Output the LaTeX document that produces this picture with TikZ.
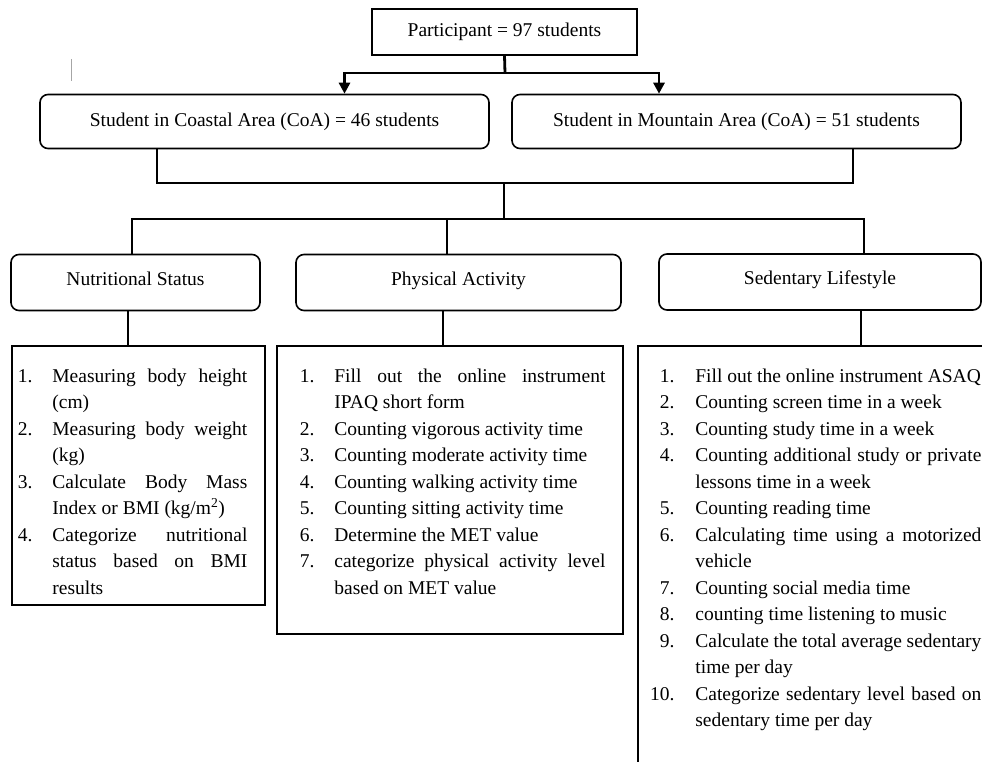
\documentclass[tikz,border=0pt]{standalone}
\usepackage{fontspec}
\setmainfont{Liberation Serif}
\usetikzlibrary{positioning, arrows.meta}

\newlength{\numw}
\newcommand{\itm}[2]{\par\hangindent=\numw\hangafter=1\noindent\strut\makebox[\numw][l]{\makebox[15pt][r]{#1}}#2\par}
\tolerance=9999

\tikzset{
  box/.style={draw, line width=1.6pt, inner sep=0pt, align=center, text height=13.5, text depth=3.5},
  areabox/.style={box, rounded corners=8pt, minimum width=#1, minimum height=54},
  headbox/.style={box, rounded corners=8pt, minimum width=#1, minimum height=56, text height=12, text depth=7},
  listbox/.style={draw, line width=1.6pt, inner sep=0pt},
  listtext/.style={text width=#1, inner sep=0pt, align=justify},
  link/.style={line width=2.8pt},
  downarrow/.style={link, -{Triangle[length=11pt,width=11pt]}}
}

\begin{document}
\begin{tikzpicture}[x=1pt, y=-1pt, font=\fontsize{19.5}{26.5}\selectfont]
\useasboundingbox (0,0) rectangle (982,762);
\clip (0,0) rectangle (982,762);

\node[box, minimum width=265, minimum height=46] (part) at (504.5,32) {Participant = 97 students};
\node[areabox=449] (coastal) at (264.5,121.5) {Student in Coastal Area (CoA) = 46 students};
\node[areabox=449] (mountain) at (736.5,121.5) {Student in Mountain Area (CoA) = 51 students};

\node[headbox=249] (nutr) at (135.5,282.5) {Nutritional Status};
\node[headbox=325] (phys) at (458.5,282.5) {Physical Activity};
\node[headbox=322] (sed) at (820,282) {Sedentary Lifestyle};

% list boxes
\node[listbox, minimum width=253, minimum height=259] (nutlist) at (138.5,475.5) {};
\node[listbox, minimum width=346, minimum height=288] (physlist) at (450,490) {};
\node[listbox, minimum width=362, minimum height=454] (sedlist) at (819,573) {};

\node[listtext=230, below right=10.5pt and 6pt of nutlist.north west] (nuttext) {\numw=35pt
\itm{1.}{Measuring body height \linebreak (cm)}
\itm{2.}{Measuring body weight \linebreak (kg)}
\itm{3.}{Calculate Body Mass \linebreak Index or BMI (kg/m\textsuperscript{2})}
\itm{4.}{Categorize nutritional \linebreak status based on BMI \linebreak results}};

\node[listtext=306, below right=10.5pt and 23pt of physlist.north west] (phystext) {\numw=35pt
\itm{1.}{Fill out the online instrument \linebreak IPAQ short form}
\itm{2.}{Counting vigorous activity time}
\itm{3.}{Counting moderate activity time}
\itm{4.}{Counting walking activity time}
\itm{5.}{Counting sitting activity time}
\itm{6.}{Determine the MET value}
\itm{7.}{categorize physical activity level \linebreak based on MET value}};

\node[listtext=322, below right=10.5pt and 22pt of sedlist.north west] (sedtext) {\numw=36pt
\itm{1.}{Fill out the online instrument ASAQ}
\itm{2.}{Counting screen time in a week}
\itm{3.}{Counting study time in a week}
\itm{4.}{Counting additional study or private \linebreak lessons time in a week}
\itm{5.}{Counting reading time}
\itm{6.}{Calculating time using a motorized \linebreak vehicle}
\itm{7.}{Counting social media time}
\itm{8.}{counting time listening to music}
\itm{9.}{Calculate the total average sedentary \linebreak time per day}
\itm{10.}{Categorize sedentary level based on \linebreak sedentary time per day}};

% connectors
\coordinate (j1) at (505,73);
\coordinate (j2) at (504,183);
\coordinate (j3) at (504,219);
\draw[link] (part.south) -- (j1);
\draw[downarrow] (j1) -| ([xshift=80pt]coastal.north);
\draw[downarrow] (j1) -| ([xshift=-77.5pt]mountain.north);
\draw[link] ([xshift=-107.5pt]coastal.south) |- (j2);
\draw[link] ([xshift=116.5pt]mountain.south) |- (j2);
\draw[link] (j2) -- (j3);
\draw[link] (j3) -| ([xshift=-3.5pt]nutr.north);
\draw[link] (j3) -| ([xshift=-11.5pt]phys.north);
\draw[link] (j3) -| ([xshift=44pt]sed.north);
\draw[link] ([xshift=-7.5pt]nutr.south) coordinate (n1) -- (n1 |- nutlist.north);
\draw[link] ([xshift=-15.5pt]phys.south) coordinate (p1) -- (p1 |- physlist.north);
\draw[link] ([xshift=41pt]sed.south) coordinate (s1) -- (s1 |- sedlist.north);

\draw[gray!70, line width=0.8pt] (71,59) -- (71,81);
\end{tikzpicture}
\end{document}
